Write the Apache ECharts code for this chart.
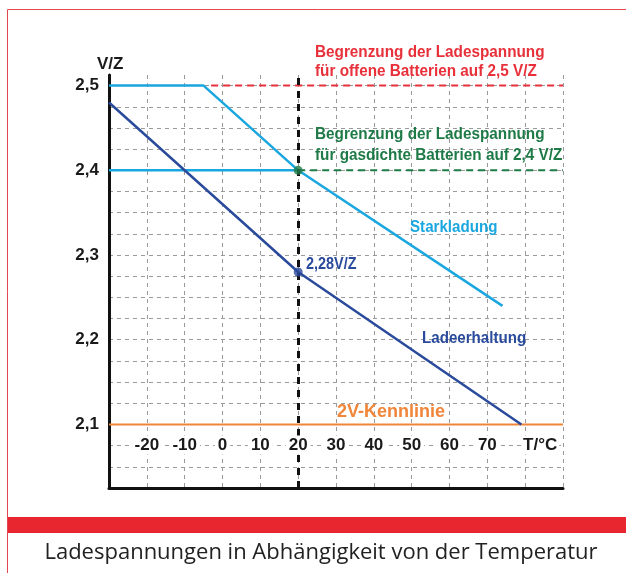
<!DOCTYPE html>
<html><head><meta charset="utf-8">
<script src="https://cdn.jsdelivr.net/npm/echarts@6/dist/echarts.min.js"></script>
<style>html,body{margin:0;padding:0;background:#fff}#c{width:626px;height:573px}</style>
</head><body><div id="c"></div>
<script>
// Data
const starkladung = [[-30, 2.5], [-5, 2.5], [20, 2.4], [74, 2.24]];
const gasdichtLine = [[-30, 2.4], [20, 2.4]];
const ladeerhaltung = [[-30, 2.48], [20, 2.28], [79, 2.1]];
const offenLimit = [[-3, 2.5], [90, 2.5]];
const gasdichtLimit = [[20, 2.4], [90, 2.4]];
const kennlinie = [[-30, 2.1], [90, 2.1]];
const greenPoint = [[20, 2.4]];
const bluePoint = [[20, 2.28]];
const refTemp = 20;
const xTickLabels = {'-20':'-20','-10':'-10','0':'0','10':'10','20':'20','30':'30','40':'40','50':'50','60':'60','70':'70','80':'T/°C'};
const yTickValues = [2.1, 2.2, 2.3, 2.4, 2.5];

const FONT = "'Liberation Sans', Arial, sans-serif";
const CYAN = '#1aa7e0', BLUE = '#2a4a9c', GREEN = '#1e7a46', RED = '#e8303a', ORANGE = '#f0863a';

const chart = echarts.init(document.getElementById('c'));
const grid = {left: 109, right: 63, top: 75, bottom: 85};
function txt(x, y, text, color, size, sx, lh) {
  return {type: 'text', x: x, y: y, scaleX: sx, originX: 0, z: 10,
    style: {text: text, font: 'bold ' + size + 'px ' + FONT, fill: color, lineHeight: lh || size + 2}};
}
chart.setOption({
  animation: false,
  backgroundColor: '#fff',
  grid: grid,
  xAxis: [{
    type: 'value', min: -30, max: 90, interval: 10,
    axisLine: {show: true, onZero: false, lineStyle: {color: '#111', width: 3}},
    axisTick: {show: false},
    axisLabel: {show: false},
    splitLine: {show: true, showMinLine: false, lineStyle: {color: '#9a9a9a', type: [4, 4], width: 1}}
  }, {
    type: 'value', min: -30, max: 90, interval: 10, position: 'bottom', z: 10,
    axisLine: {show: false}, axisTick: {show: false}, splitLine: {show: false},
    axisLabel: {
      interval: 0, margin: -43, verticalAlign: 'middle',
      formatter: v => { const k = String(Math.round(v)); if (!(k in xTickLabels)) return ''; return k === '80' ? '{g|}{t|' + xTickLabels[k] + '}' : '{n|' + xTickLabels[k] + '}'; },
      rich: {
        n: {fontFamily: FONT, fontWeight: 'bold', fontSize: 17, color: '#1a1a1a', backgroundColor: '#fff', padding: [1, 3]},
        t: {fontFamily: FONT, fontWeight: 'bold', fontSize: 17, color: '#1a1a1a', backgroundColor: '#fff', padding: [1, 2]},
        g: {width: 30}
      }
    }
  }],
  yAxis: {
    type: 'value', min: 2.025, max: 2.5125, interval: 0.025,
    axisLine: {show: true, onZero: false, lineStyle: {color: '#111', width: 3}},
    axisTick: {show: false},
    splitLine: {show: true, showMinLine: false, showMaxLine: false, lineStyle: {color: '#9a9a9a', type: [4, 4], width: 1}},
    axisLabel: {
      margin: 10, fontFamily: FONT, fontWeight: 'bold', fontSize: 17, color: '#1a1a1a',
      formatter: v => { const hit = yTickValues.find(t => Math.abs(t - v) < 1e-6); return hit ? hit.toFixed(1).replace('.', ',') : ''; }
    }
  },
  series: [
    {type: 'line', data: kennlinie, symbol: 'none', lineStyle: {color: ORANGE, width: 2}, z: 2},
    {type: 'line', data: offenLimit, symbol: 'none', lineStyle: {color: RED, width: 2, type: [7, 5]}, z: 2},
    {type: 'line', data: gasdichtLimit, symbol: 'none', lineStyle: {color: GREEN, width: 2, type: [7, 5]}, z: 2},
    {type: 'line', data: gasdichtLine, symbol: 'none', lineStyle: {color: CYAN, width: 2.5}, z: 3},
    {type: 'line', data: starkladung, symbol: 'none', lineStyle: {color: CYAN, width: 2.5}, z: 3},
    {type: 'line', data: ladeerhaltung, symbol: 'none', lineStyle: {color: BLUE, width: 2.5}, z: 3,
      markLine: {silent: true, symbol: 'none', label: {show: false},
        lineStyle: {color: '#111', width: 3, type: [7, 6]}, data: [{xAxis: refTemp}]}},
    {type: 'scatter', data: greenPoint, symbolSize: 9, itemStyle: {color: GREEN}, z: 5},
    {type: 'scatter', data: bluePoint, symbolSize: 9, itemStyle: {color: BLUE}, z: 5}
  ],
  graphic: [
    {type: 'rect', shape: {x: 7.5, y: 9.5, width: 640, height: 600}, style: {fill: 'none', stroke: '#e2474f', lineWidth: 1}, z: 0, silent: true},
    {type: 'rect', shape: {x: 8, y: 517, width: 620, height: 16}, style: {fill: '#e8262f'}, z: 10},
    {type: 'text', x: 321, y: 553, z: 10, style: {text: 'Ladespannungen in Abhängigkeit von der Temperatur', font: "22px 'Open Sans', 'Noto Sans', sans-serif", fill: '#222', align: 'center', verticalAlign: 'middle'}},
    txt(97, 55, 'V/Z', '#1a1a1a', 17, 1),
    txt(315, 43, 'Begrenzung der Ladespannung\nfür offene Batterien auf 2,5 V/Z', RED, 17, 0.9, 19),
    txt(315, 124, 'Begrenzung der Ladespannung\nfür gasdichte Batterien auf 2,4 V/Z', GREEN, 17, 0.9, 21),
    txt(410, 218, 'Starkladung', CYAN, 17, 0.89),
    txt(422, 329, 'Ladeerhaltung', BLUE, 17, 0.89),
    txt(306, 256, '2,28V/Z', BLUE, 16, 0.9),
    txt(337, 402, '2V-Kennlinie', ORANGE, 18, 1)
  ]
});
</script>
</body></html>
